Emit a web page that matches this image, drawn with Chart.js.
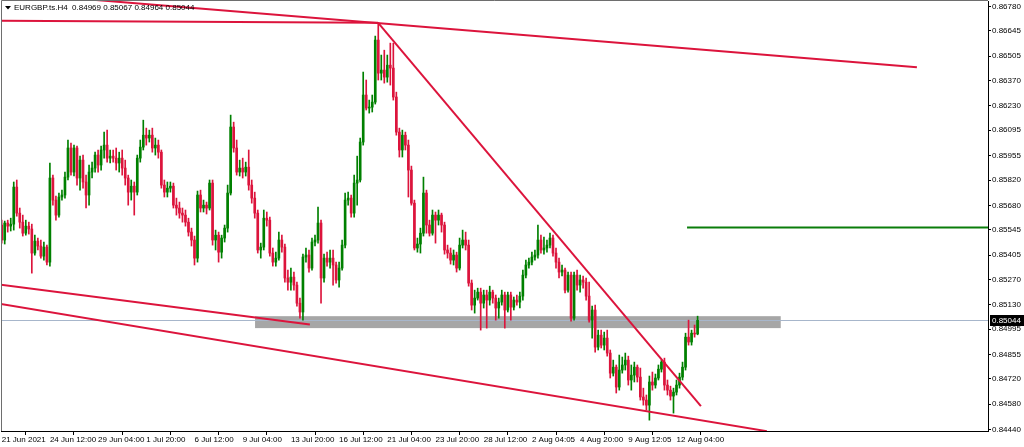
<!DOCTYPE html>
<html>
<head>
<meta charset="utf-8">
<script src="https://cdn.jsdelivr.net/npm/chart.js@4.4.1/dist/chart.umd.min.js"></script>
<style>
  html, body { margin: 0; padding: 0; background: #ffffff; }
  #c { display: block; }
</style>
</head>
<body>
<canvas id="c" width="1024" height="447"></canvas>
<script>
// ---- chart data (EURGBP.ts, H4) ----
const symbolTitle = 'EURGBP.ts.H4  0.84969 0.85067 0.84964 0.85044';

const opens = [
0.85571,0.85488,0.85582,0.85565,0.85576,0.85781,0.85637,0.85587,0.85526,0.85565,
0.85549,0.85416,0.85482,0.85455,0.85399,0.85449,0.85366,0.85831,0.85709,0.85626,
0.85726,0.85737,0.85836,0.85997,0.85864,0.85997,0.85831,0.85930,0.85809,0.85737,
0.85864,0.85886,0.85958,0.85903,0.85986,0.86013,0.85941,0.85952,0.85941,0.85914,
0.85941,0.85886,0.85831,0.85753,0.85786,0.85753,0.85941,0.86002,0.86068,0.86052,
0.86068,0.85997,0.86013,0.85974,0.85792,0.85753,0.85775,0.85786,0.85681,0.85665,
0.85637,0.85626,0.85587,0.85532,0.85488,0.85388,0.85737,0.85665,0.85681,0.85665,
0.85803,0.85488,0.85515,0.85421,0.85499,0.85554,0.85748,0.86113,0.85997,0.85864,
0.85886,0.85864,0.85891,0.85792,0.85720,0.85637,0.85433,0.85449,0.85609,0.85598,
0.85416,0.85366,0.85388,0.85488,0.85449,0.85278,0.85255,0.85283,0.85239,0.85139,
0.85090,0.85394,0.85405,0.85333,0.85477,0.85488,0.85582,0.85278,0.85388,0.85366,
0.85388,0.85350,0.85267,0.85333,0.85460,0.85709,0.85720,0.85637,0.85803,0.85820,
0.86030,0.86290,0.86218,0.86223,0.86251,0.86594,0.86411,0.86428,0.86389,0.86455,
0.86439,0.86279,0.86085,0.85986,0.86068,0.86013,0.85875,0.85692,0.85444,0.85466,
0.85526,0.85748,0.85571,0.85526,0.85626,0.85598,0.85626,0.85571,0.85433,0.85416,
0.85377,0.85405,0.85333,0.85460,0.85488,0.85460,0.85250,0.85128,0.85167,0.85200,
0.85139,0.85184,0.85156,0.85200,0.85167,0.85112,0.85145,0.85184,0.85101,0.85184,
0.85117,0.85156,0.85145,0.85178,0.85294,0.85350,0.85366,0.85394,0.85405,0.85488,
0.85433,0.85444,0.85460,0.85499,0.85416,0.85366,0.85311,0.85322,0.85211,0.85294,
0.85056,0.85294,0.85239,0.85267,0.85255,0.85178,0.85045,0.85101,0.84896,0.84962,
0.84907,0.84946,0.84863,0.84752,0.84785,0.84675,0.84769,0.84797,0.84824,0.84714,
0.84741,0.84785,0.84730,0.84620,0.84603,0.84575,0.84703,0.84686,0.84725,0.84774,
0.84813,0.84686,0.84658,0.84625,0.84647,0.84686,0.84730,0.84785,0.84951,0.84924,
0.84973,0.84969
];

const highs = [
0.85598,0.85593,0.85598,0.85609,0.85809,0.85820,0.85665,0.85626,0.85598,0.85587,
0.85576,0.85515,0.85499,0.85488,0.85477,0.85460,0.85914,0.85847,0.85731,0.85748,
0.85764,0.85864,0.86041,0.86024,0.86013,0.86008,0.85952,0.85958,0.85847,0.85903,
0.85919,0.85974,0.85986,0.86008,0.86085,0.86096,0.85986,0.85986,0.85997,0.85974,
0.85986,0.85930,0.85847,0.85820,0.85809,0.85958,0.86041,0.86151,0.86107,0.86096,
0.86107,0.86052,0.86041,0.85986,0.85820,0.85809,0.85809,0.85803,0.85720,0.85698,
0.85665,0.85654,0.85609,0.85554,0.85510,0.85759,0.85764,0.85709,0.85698,0.85820,
0.85820,0.85543,0.85532,0.85515,0.85571,0.85792,0.86179,0.86140,0.86041,0.85930,
0.85941,0.85919,0.85986,0.85820,0.85753,0.85654,0.85471,0.85654,0.85643,0.85615,
0.85444,0.85421,0.85532,0.85515,0.85466,0.85322,0.85333,0.85311,0.85255,0.85167,
0.85410,0.85444,0.85433,0.85499,0.85515,0.85670,0.85598,0.85410,0.85421,0.85433,
0.85433,0.85366,0.85366,0.85488,0.85748,0.85753,0.85737,0.85847,0.85952,0.86052,
0.86417,0.86373,0.86262,0.86290,0.86616,0.86688,0.86511,0.86538,0.86511,0.86577,
0.86577,0.86306,0.86107,0.86096,0.86085,0.86041,0.85897,0.85709,0.85499,0.85554,
0.85836,0.85764,0.85598,0.85654,0.85643,0.85654,0.85637,0.85587,0.85460,0.85444,
0.85433,0.85421,0.85499,0.85543,0.85532,0.85488,0.85267,0.85211,0.85222,0.85222,
0.85211,0.85211,0.85233,0.85211,0.85184,0.85167,0.85211,0.85200,0.85200,0.85200,
0.85173,0.85184,0.85200,0.85322,0.85377,0.85388,0.85421,0.85433,0.85571,0.85515,
0.85504,0.85488,0.85526,0.85515,0.85444,0.85388,0.85350,0.85333,0.85311,0.85311,
0.85311,0.85322,0.85294,0.85289,0.85278,0.85255,0.85123,0.85128,0.84990,0.84990,
0.84979,0.84990,0.84880,0.84824,0.84797,0.84852,0.84841,0.84863,0.84846,0.84797,
0.84813,0.84797,0.84780,0.84669,0.84631,0.84736,0.84758,0.84747,0.84797,0.84824,
0.84835,0.84714,0.84680,0.84669,0.84714,0.84752,0.84813,0.84973,0.85045,0.84990,
0.85018,0.85067
];

const lows = [
0.85471,0.85466,0.85532,0.85538,0.85543,0.85620,0.85554,0.85510,0.85515,0.85521,
0.85305,0.85405,0.85433,0.85388,0.85377,0.85350,0.85344,0.85681,0.85598,0.85615,
0.85709,0.85720,0.85820,0.85847,0.85842,0.85792,0.85764,0.85775,0.85665,0.85681,
0.85831,0.85864,0.85864,0.85875,0.85941,0.85919,0.85914,0.85919,0.85875,0.85864,
0.85847,0.85792,0.85681,0.85709,0.85626,0.85737,0.85919,0.85986,0.86013,0.86030,
0.85974,0.85958,0.85941,0.85775,0.85726,0.85726,0.85753,0.85665,0.85626,0.85609,
0.85587,0.85565,0.85510,0.85455,0.85350,0.85366,0.85643,0.85643,0.85632,0.85654,
0.85460,0.85433,0.85366,0.85388,0.85477,0.85532,0.85737,0.85974,0.85847,0.85842,
0.85831,0.85842,0.85764,0.85692,0.85609,0.85416,0.85388,0.85433,0.85565,0.85399,
0.85344,0.85344,0.85377,0.85421,0.85255,0.85211,0.85211,0.85211,0.85123,0.85056,
0.85045,0.85366,0.85311,0.85322,0.85455,0.85471,0.85139,0.85255,0.85344,0.85333,
0.85239,0.85250,0.85228,0.85322,0.85444,0.85681,0.85615,0.85615,0.85681,0.85809,
0.86013,0.86207,0.86190,0.86196,0.86240,0.86373,0.86373,0.86356,0.86361,0.86345,
0.86262,0.86068,0.85947,0.85947,0.85986,0.85726,0.85681,0.85433,0.85421,0.85416,
0.85510,0.85526,0.85510,0.85515,0.85471,0.85571,0.85532,0.85410,0.85388,0.85355,
0.85350,0.85311,0.85322,0.85444,0.85433,0.85233,0.85101,0.85084,0.85156,0.84990,
0.85112,0.85001,0.85128,0.85139,0.85045,0.85056,0.85128,0.85001,0.85090,0.85045,
0.85101,0.85128,0.85112,0.85156,0.85278,0.85333,0.85350,0.85377,0.85388,0.85416,
0.85410,0.85421,0.85444,0.85399,0.85333,0.85278,0.85289,0.85195,0.85200,0.85040,
0.85045,0.85211,0.85200,0.85222,0.85156,0.85034,0.84946,0.84868,0.84880,0.84891,
0.84880,0.84846,0.84725,0.84736,0.84642,0.84658,0.84752,0.84769,0.84686,0.84658,
0.84703,0.84703,0.84603,0.84575,0.84548,0.84492,0.84658,0.84669,0.84714,0.84758,
0.84658,0.84631,0.84603,0.84531,0.84631,0.84669,0.84714,0.84769,0.84907,0.84907,
0.84951,0.84964
];

const closes = [
0.85488,0.85582,0.85565,0.85576,0.85781,0.85637,0.85587,0.85526,0.85565,0.85549,
0.85416,0.85482,0.85455,0.85399,0.85449,0.85366,0.85831,0.85709,0.85626,0.85726,
0.85737,0.85836,0.85997,0.85864,0.85997,0.85831,0.85930,0.85809,0.85737,0.85864,
0.85886,0.85958,0.85903,0.85986,0.86013,0.85941,0.85952,0.85941,0.85914,0.85941,
0.85886,0.85831,0.85753,0.85786,0.85753,0.85941,0.86002,0.86068,0.86052,0.86068,
0.85997,0.86013,0.85974,0.85792,0.85753,0.85775,0.85786,0.85681,0.85665,0.85637,
0.85626,0.85587,0.85532,0.85488,0.85388,0.85737,0.85665,0.85681,0.85665,0.85803,
0.85488,0.85515,0.85421,0.85499,0.85554,0.85748,0.86113,0.85997,0.85864,0.85886,
0.85864,0.85891,0.85792,0.85720,0.85637,0.85433,0.85449,0.85609,0.85598,0.85416,
0.85366,0.85388,0.85488,0.85449,0.85278,0.85255,0.85283,0.85239,0.85139,0.85090,
0.85394,0.85405,0.85333,0.85477,0.85488,0.85582,0.85278,0.85388,0.85366,0.85388,
0.85350,0.85267,0.85333,0.85460,0.85709,0.85720,0.85637,0.85803,0.85820,0.86030,
0.86290,0.86218,0.86223,0.86251,0.86594,0.86411,0.86428,0.86389,0.86455,0.86439,
0.86279,0.86085,0.85986,0.86068,0.86013,0.85875,0.85692,0.85444,0.85466,0.85526,
0.85748,0.85571,0.85526,0.85626,0.85598,0.85626,0.85571,0.85433,0.85416,0.85377,
0.85405,0.85333,0.85460,0.85488,0.85460,0.85250,0.85128,0.85167,0.85200,0.85139,
0.85184,0.85156,0.85200,0.85167,0.85112,0.85145,0.85184,0.85101,0.85184,0.85117,
0.85156,0.85145,0.85178,0.85294,0.85350,0.85366,0.85394,0.85405,0.85488,0.85433,
0.85444,0.85460,0.85499,0.85416,0.85366,0.85311,0.85322,0.85211,0.85294,0.85056,
0.85294,0.85239,0.85267,0.85255,0.85178,0.85045,0.85101,0.84896,0.84962,0.84907,
0.84946,0.84863,0.84752,0.84785,0.84675,0.84769,0.84797,0.84824,0.84714,0.84741,
0.84785,0.84730,0.84620,0.84603,0.84575,0.84703,0.84686,0.84725,0.84774,0.84813,
0.84686,0.84658,0.84625,0.84647,0.84686,0.84730,0.84785,0.84951,0.84924,0.84973,
0.84968,0.85044
];

// time-axis labels, one every 16 H4 bars
const xTickLabels = ['21 Jun 2021','24 Jun 12:00','29 Jun 04:00','1 Jul 20:00','6 Jul 12:00',
  '9 Jul 04:00','13 Jul 20:00','16 Jul 12:00','21 Jul 04:00','23 Jul 20:00','28 Jul 12:00',
  '2 Aug 04:05','4 Aug 20:00','9 Aug 12:05','12 Aug 04:00'];
const xTickBars = [0,16,32,48,64,80,96,112,128,144,160,176,192,208,224];

const yTickValues = [0.86780,0.86645,0.86505,0.86370,0.86230,0.86095,0.85955,0.85820,0.85680,
  0.85545,0.85405,0.85270,0.85130,0.84995,0.84855,0.84720,0.84580,0.84440];

// drawn objects, in (bar index, price)
const trendLineStarts = [[-0.6, 0.86859], [-0.6, 0.86701], [124.9, 0.86690], [-0.6, 0.85242], [-0.6, 0.85135]];
const trendLineEnds   = [[303.8, 0.86444], [124.9, 0.86690], [232.1, 0.84569], [102.3, 0.85021], [254.0, 0.84431]];
const resistanceLevel = 0.85558;
const resistanceFromBar = 227.5;
const zoneHigh = 0.85067;
const zoneLow = 0.85001;
const zoneFromBar = 84.1;
const zoneToBar = 258.6;
const lastPrice = 0.85044;

// ---- build chart ----
const BULL = '#008000';
const BEAR = '#dc143c';
const isBull = closes.map((c, i) => c >= opens[i]);
const candleColors = isBull.map(b => b ? BULL : BEAR);

const wickData = highs.map((h, i) => ({ x: i, y: [lows[i], h] }));
const bodyData = closes.map((c, i) => ({ x: i, y: [opens[i], c] }));

const FONT = { family: '"Liberation Sans", Arial, sans-serif', size: 8 };

function noPad(s) { s.paddingTop = 0; s.paddingBottom = 0; s.paddingLeft = 0; s.paddingRight = 0; }

const overlay = {
  id: 'overlay',
  beforeDatasetsDraw(chart) {
    const { ctx, chartArea: a, scales: { x, y } } = chart;
    ctx.save();
    ctx.beginPath(); ctx.rect(a.left, a.top, a.right - a.left, a.bottom - a.top); ctx.clip();
    const x0 = x.getPixelForValue(zoneFromBar), x1 = x.getPixelForValue(zoneToBar);
    const y0 = y.getPixelForValue(zoneHigh), y1 = y.getPixelForValue(zoneLow);
    ctx.fillStyle = '#a6a6a6';
    ctx.fillRect(x0, y0, x1 - x0, y1 - y0);
    const py = Math.round(y.getPixelForValue(lastPrice)) + 0.5;
    ctx.strokeStyle = '#a7b6cb'; ctx.lineWidth = 1;
    ctx.beginPath(); ctx.moveTo(a.left, py); ctx.lineTo(a.right, py); ctx.stroke();
    ctx.restore();
  },
  afterDatasetsDraw(chart) {
    const { ctx, chartArea: a, scales: { x, y } } = chart;
    ctx.save();
    ctx.beginPath(); ctx.rect(a.left, a.top, a.right - a.left, a.bottom - a.top); ctx.clip();
    ctx.strokeStyle = BEAR; ctx.lineWidth = 2; ctx.lineCap = 'butt';
    trendLineStarts.forEach((s, k) => {
      const e = trendLineEnds[k];
      ctx.beginPath();
      ctx.moveTo(x.getPixelForValue(s[0]), y.getPixelForValue(s[1]));
      ctx.lineTo(x.getPixelForValue(e[0]), y.getPixelForValue(e[1]));
      ctx.stroke();
    });
    const gy = y.getPixelForValue(resistanceLevel);
    ctx.strokeStyle = '#0a7d0a'; ctx.lineWidth = 2;
    ctx.beginPath(); ctx.moveTo(x.getPixelForValue(resistanceFromBar), gy); ctx.lineTo(a.right, gy); ctx.stroke();
    ctx.restore();
  },
  afterDraw(chart) {
    const { ctx, chartArea: a, scales: { y } } = chart;
    ctx.save();
    // frame
    ctx.strokeStyle = '#6e6e6e'; ctx.lineWidth = 1;
    ctx.beginPath();
    ctx.moveTo(1.5, a.bottom); ctx.lineTo(1.5, 0.5); ctx.lineTo(a.right, 0.5);
    ctx.stroke();
    // symbol title
    ctx.fillStyle = '#000';
    ctx.beginPath(); ctx.moveTo(5, 6); ctx.lineTo(11, 6); ctx.lineTo(8, 9.5); ctx.closePath(); ctx.fill();
    ctx.font = '8px "Liberation Sans", Arial, sans-serif';
    ctx.textBaseline = 'middle'; ctx.textAlign = 'left';
    ctx.fillText(symbolTitle, 14, 8);
    // last price tag
    const py = Math.round(y.getPixelForValue(lastPrice));
    ctx.fillStyle = '#000';
    ctx.fillRect(a.right + 2, py - 5, 1024 - a.right - 2, 11);
    ctx.fillStyle = '#fff';
    ctx.fillText(lastPrice.toFixed(5), a.right + 4, py + 0.5);
    ctx.restore();
  }
};

new Chart(document.getElementById('c'), {
  type: 'bar',
  data: {
    datasets: [
      { label: 'wick', data: wickData, backgroundColor: candleColors, borderWidth: 0, barThickness: 1, grouped: false, order: 2 },
      { label: 'body', data: bodyData, backgroundColor: candleColors, borderWidth: 0, barThickness: 2, minBarLength: 1, grouped: false, order: 1 }
    ]
  },
  options: {
    responsive: false,
    animation: false,
    devicePixelRatio: 1,
    layout: { padding: { left: 1, top: 1, right: 0, bottom: 0 } },
    plugins: { legend: { display: false }, tooltip: { enabled: false }, title: { display: false } },
    scales: {
      x: {
        type: 'linear', position: 'bottom', min: -0.232, max: 327.4, offset: false,
        afterFit(s) { s.height = 16; noPad(s); },
        afterBuildTicks(s) { s.ticks = xTickBars.map(v => ({ value: v })); },
        ticks: {
          autoSkip: false, maxRotation: 0, minRotation: 0, align: 'start', padding: 0,
          color: '#000', font: FONT,
          callback: (v, i) => xTickLabels[i]
        },
        grid: { drawOnChartArea: false, drawTicks: true, tickLength: 4, color: '#000' },
        border: { display: true, color: '#000' }
      },
      y: {
        position: 'right', min: 0.84432, max: 0.86810,
        afterFit(s) { s.width = 36; noPad(s); },
        afterBuildTicks(s) { s.ticks = yTickValues.map(v => ({ value: v })); },
        ticks: { color: '#000', font: FONT, padding: 1, callback: v => v.toFixed(5) },
        grid: { drawOnChartArea: false, drawTicks: true, tickLength: 3, color: '#000' },
        border: { display: true, color: '#000' }
      }
    }
  },
  plugins: [overlay]
});
</script>
</body>
</html>
